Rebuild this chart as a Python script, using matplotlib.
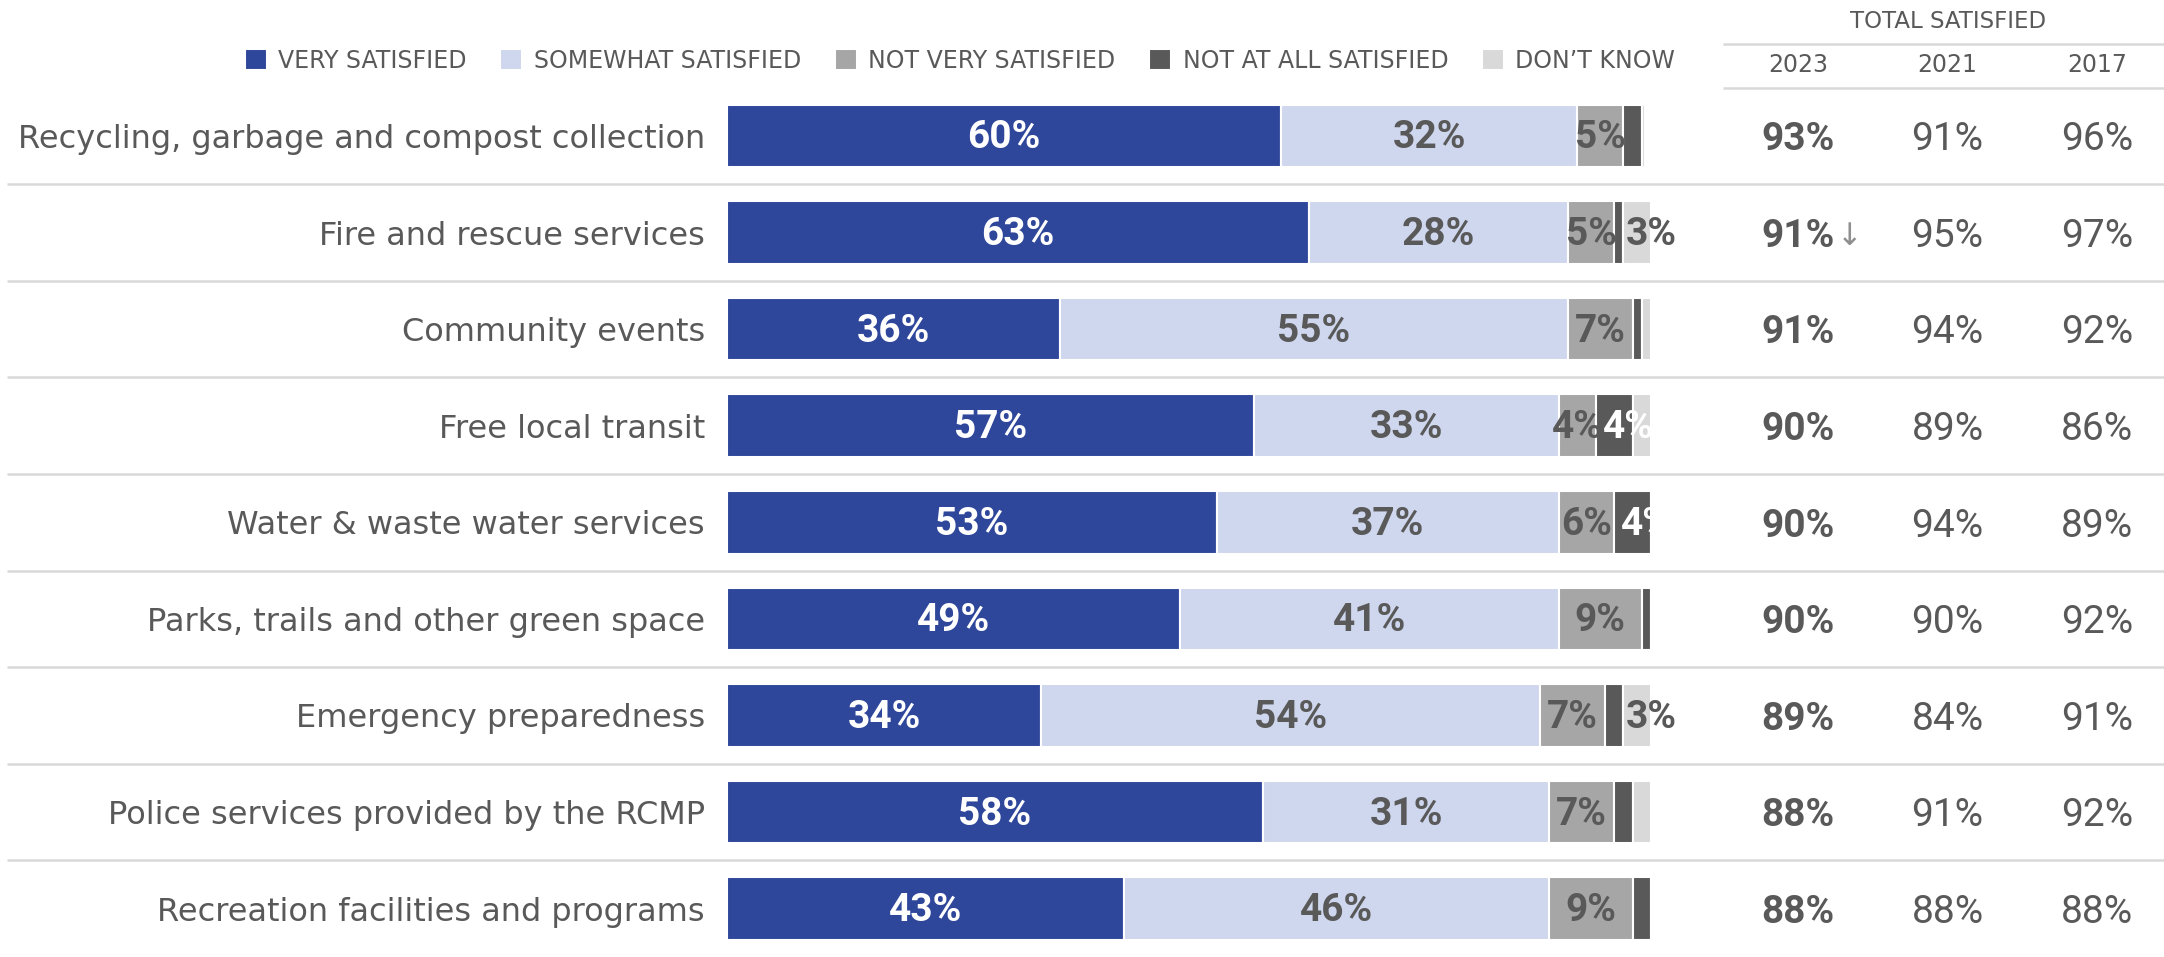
import matplotlib
matplotlib.use("Agg")
import matplotlib.pyplot as plt

# Satisfaction with municipal services, share of respondents (%)
categories = [
    "Recycling, garbage and compost collection",
    "Fire and rescue services",
    "Community events",
    "Free local transit",
    "Water & waste water services",
    "Parks, trails and other green space",
    "Emergency preparedness",
    "Police services provided by the RCMP",
    "Recreation facilities and programs",
]
very_satisfied = [60, 63, 36, 57, 53, 49, 34, 58, 43]
somewhat_satisfied = [32, 28, 55, 33, 37, 41, 54, 31, 46]
not_very_satisfied = [5, 5, 7, 4, 6, 9, 7, 7, 9]
not_at_all_satisfied = [2, 1, 1, 4, 4, 1, 2, 2, 2]
dont_know = [0.3, 3, 1, 2, 0.3, 0.2, 3, 2, 0.3]

series_names = ["VERY SATISFIED", "SOMEWHAT SATISFIED", "NOT VERY SATISFIED",
                "NOT AT ALL SATISFIED", "DON\u2019T KNOW"]
series_colors = ["#2F479B", "#CFD7EE", "#A6A6A6", "#595959", "#D9D9D9"]
label_colors = ["white", "#595959", "#595959", "white", "#595959"]

# Total satisfied by survey year
years = ["2023", "2021", "2017"]
total_2023 = [93, 91, 91, 90, 90, 90, 89, 88, 88]
total_2021 = [91, 95, 94, 89, 94, 90, 84, 91, 88]
total_2017 = [96, 97, 92, 86, 89, 92, 91, 92, 88]
drop_2023 = [False, True, False, False, False, False, False, False, False]

TEXT = "#595959"
GRID = "#D9D9D9"
NUM_FONT = ["Roboto", "DejaVu Sans"]

plt.rcParams["font.family"] = ["DejaVu Sans"]

fig = plt.figure(figsize=(21.64, 9.57), dpi=100)
ax = fig.add_axes([727 / 2164, 0, 924 / 2164, 869.4 / 957])

rows = list(range(len(categories)))
series = [very_satisfied, somewhat_satisfied, not_very_satisfied,
          not_at_all_satisfied, dont_know]

left = [0] * len(categories)
handles = []
for k, values in enumerate(series):
    bars = ax.barh(rows, values, left=left, height=0.65, color=series_colors[k],
                   edgecolor="white", linewidth=1.5, label=series_names[k])
    handles.append(bars)
    for i, v in enumerate(values):
        if v >= 3:
            # narrow end segments get their label pushed a bit to the right
            nudge = 1.5 if k >= 3 else 0
            ax.text(left[i] + v / 2 + nudge, i + 0.02, f"{v:.0f}%", ha="center",
                    va="center", color=label_colors[k], fontsize=28,
                    fontweight="bold", family=NUM_FONT)
    left = [a + b for a, b in zip(left, values)]

ax.set_xlim(0, 100)
ax.set_ylim(len(categories) - 0.5, -0.5)
ax.set_yticks(rows)
ax.set_yticklabels(categories, fontsize=23, color=TEXT)
ax.tick_params(axis="y", length=0, pad=16)
ax.set_xticks([])
for spine in ax.spines.values():
    spine.set_visible(False)

# Row separators running across labels, bars and the table
ax.hlines([r + 0.5 for r in rows[:-1]], -77.9, 155.5, color=GRID,
          linewidth=1.8, clip_on=False)

# Total satisfied table on the right
col_x = [115.9, 132.1, 148.3]
ax.hlines([-0.947, -0.5], 107.8, 155.5, color=GRID, linewidth=1.8, clip_on=False)
ax.text(col_x[1], -1.18, "TOTAL SATISFIED", ha="center", va="center",
        color=TEXT, fontsize=16.5, clip_on=False)
for x, year in zip(col_x, years):
    ax.text(x, -0.73, year, ha="center", va="center", color=TEXT,
            fontsize=17, clip_on=False)

for i in rows:
    ax.text(col_x[0], i + 0.04, f"{total_2023[i]}%", ha="center", va="center",
            color=TEXT, fontsize=28, fontweight="bold", family=NUM_FONT)
    if drop_2023[i]:
        ax.text(121.5, i + 0.04, "\u2193", ha="center", va="center",
                color="#8F8F8F", fontsize=22)
    ax.text(col_x[1], i + 0.04, f"{total_2021[i]}%", ha="center", va="center",
            color=TEXT, fontsize=28, family=NUM_FONT)
    ax.text(col_x[2], i + 0.04, f"{total_2017[i]}%", ha="center", va="center",
            color=TEXT, fontsize=28, family=NUM_FONT)

fig.legend(handles=handles, loc="center", bbox_to_anchor=(960 / 2164, 1 - 61 / 957),
           ncol=5, frameon=False, fontsize=17, labelcolor=TEXT,
           handlelength=0.93, handleheight=1.0, handletextpad=0.47,
           columnspacing=1.45, borderpad=0)

fig.savefig("out.png", dpi=100)
